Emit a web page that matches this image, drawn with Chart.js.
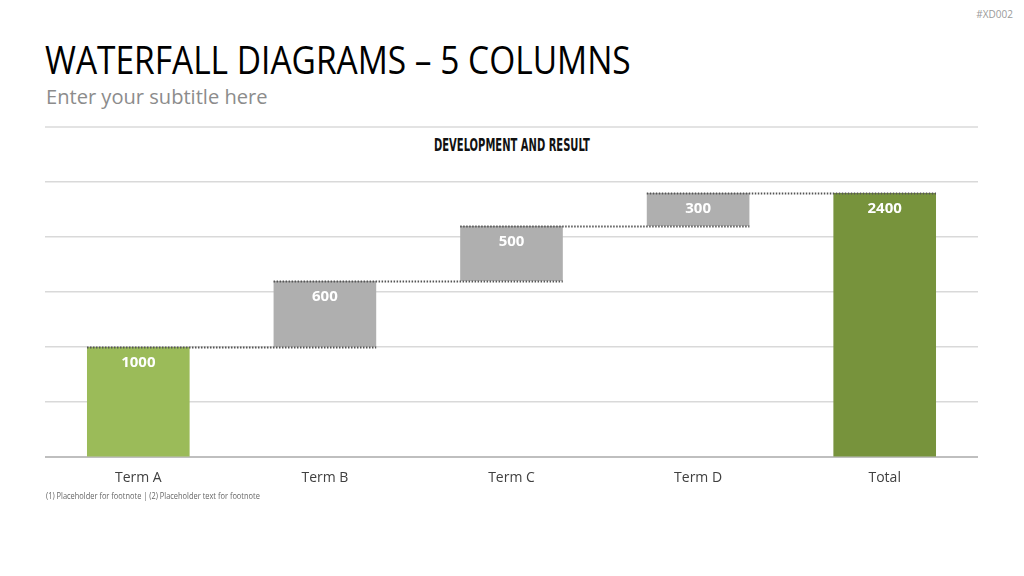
<!DOCTYPE html>
<html lang="en">
<head>
  <meta charset="UTF-8">
  <title>Waterfall Diagrams</title>
  <script src="https://cdn.jsdelivr.net/npm/chart.js@4.4.0/dist/chart.umd.min.js"></script>
  <style>
    body { margin: 0; width: 1024px; height: 576px; background: #fff; position: relative; overflow: hidden; font-family: "Open Sans", sans-serif; }
    .fit { position: absolute; white-space: nowrap; transform-origin: left top; }
    #code { position: absolute; right: 11px; top: 7px; font-size: 10px; color: #9a9a9a; }
    #title { left: 45px; top: 32px; font-size: 39px; font-weight: 400; color: #000; }
    #subtitle { left: 46px; top: 83px; font-size: 20px; font-weight: 400; color: #8c8c8c; }
    #rule { position: absolute; left: 45px; top: 126px; width: 933px; height: 2px; background: #e3e3e3; }
    #ctitle { top: 135px; font-family: "DejaVu Sans Condensed", sans-serif; font-weight: bold; font-size: 17px; color: #111; }
    #foot { left: 46px; top: 489px; font-size: 9px; color: #666; }
    .plot-container { position: absolute; left: 45px; top: 172px; width: 933px; height: 326px; }
  </style>
</head>
<body>
  <div id="code">#XD002</div>
  <div class="fit" id="title">WATERFALL DIAGRAMS – 5 COLUMNS</div>
  <div class="fit" id="subtitle">Enter your subtitle here</div>
  <div id="rule"></div>
  <div class="fit" id="ctitle">DEVELOPMENT AND RESULT</div>
  <div class="plot-container">
    <canvas id="plot"></canvas>
  </div>
  <div class="fit" id="foot">(1) Placeholder for footnote | (2) Placeholder text for footnote</div>

  <script>
    // chart values
    const categories = ['Term A', 'Term B', 'Term C', 'Term D', 'Total'];
    const values = [1000, 600, 500, 300, 2400];
    const isTotal = [false, false, false, false, true];
    const colors = ['#9bbb59', '#afafaf', '#afafaf', '#afafaf', '#77933c'];

    // squeeze the headings to the widths in the slide
    function fitWidth(id, w, left) {
      const el = document.getElementById(id);
      const s = w / el.scrollWidth;
      el.style.transform = 'scaleX(' + s + ')';
      if (left !== undefined) el.style.left = left + 'px';
    }
    fitWidth('title', 586);
    fitWidth('subtitle', 222);
    fitWidth('ctitle', 156, 434);
    fitWidth('foot', 214);

    // floating ranges for the waterfall
    const ranges = [];
    let run = 0;
    values.forEach((v, i) => {
      if (isTotal[i]) {
        ranges.push([0, v]);
      } else {
        ranges.push([run, run + v]);
        run += v;
      }
    });

    const waterfallExtras = {
      id: 'waterfallExtras',
      afterDatasetsDraw(chart) {
        const ctx = chart.ctx;
        const y = chart.scales.y;
        const bars = chart.getDatasetMeta(0).data;
        ctx.save();
        // dotted connectors
        ctx.strokeStyle = '#555';
        ctx.lineWidth = 2;
        ctx.setLineDash([1.5, 1.5]);
        for (let i = 0; i < bars.length - 1; i++) {
          const py = Math.round(y.getPixelForValue(ranges[i][1])) + 0.5;
          const x1 = bars[i].x - bars[i].width / 2;
          const x2 = bars[i + 1].x + bars[i + 1].width / 2;
          ctx.beginPath();
          ctx.moveTo(x1, py);
          ctx.lineTo(x2, py);
          ctx.stroke();
        }
        ctx.setLineDash([]);
        // value labels
        ctx.fillStyle = '#fff';
        ctx.font = 'bold 15px "Open Sans", sans-serif';
        ctx.textAlign = 'center';
        ctx.textBaseline = 'middle';
        bars.forEach((b, i) => {
          ctx.fillText(String(values[i]), b.x, y.getPixelForValue(ranges[i][1]) + 16);
        });
        ctx.restore();
      }
    };

    const plot = new Chart(document.getElementById('plot'), {
      type: 'bar',
      data: {
        labels: categories,
        datasets: [{
          data: ranges,
          backgroundColor: colors,
          borderWidth: 0,
          borderSkipped: false,
          barPercentage: 0.55,
          categoryPercentage: 1
        }]
      },
      options: {
        responsive: true,
        maintainAspectRatio: false,
        animation: false,
        layout: { padding: { top: 10, left: 0, right: 0, bottom: 0 } },
        plugins: {
          legend: { display: false },
          tooltip: { enabled: false }
        },
        scales: {
          x: {
            grid: { display: false, drawTicks: false },
            border: { display: true, color: '#bfbfbf', width: 2 },
            ticks: { color: '#404040', font: { family: 'Open Sans', size: 14 }, padding: 12 }
          },
          y: {
            min: 0,
            max: 2500,
            ticks: { display: false, stepSize: 500 },
            grid: { color: '#d9d9d9', lineWidth: 1.5, drawTicks: false },
            border: { display: false }
          }
        }
      },
      plugins: [waterfallExtras]
    });
  </script>
</body>
</html>
